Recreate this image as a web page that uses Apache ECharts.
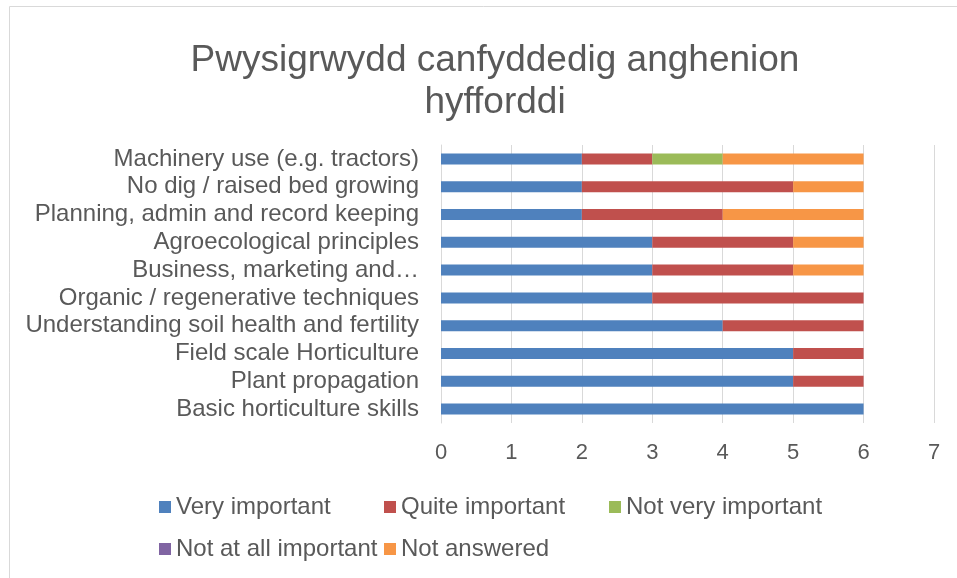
<!DOCTYPE html>
<html>
<head>
<meta charset="utf-8">
<script src="https://cdn.jsdelivr.net/npm/echarts@6/dist/echarts.min.js"></script>
<style>
  html, body { margin: 0; padding: 0; background: #fff; }
  #chart { width: 957px; height: 578px; }
</style>
</head>
<body>
<div id="chart"></div>
<script>
var categories = [
    'Basic horticulture skills',
    'Plant propagation',
    'Field scale Horticulture',
    'Understanding soil health and fertility',
    'Organic / regenerative techniques',
    'Business, marketing and\u2026',
    'Agroecological principles',
    'Planning, admin and record keeping',
    'No dig / raised bed growing',
    'Machinery use (e.g. tractors)'
];
var veryImportant     = [6, 5, 5, 4, 3, 3, 3, 2, 2, 2];
var quiteImportant    = [0, 1, 1, 2, 3, 2, 2, 2, 3, 1];
var notVeryImportant  = [0, 0, 0, 0, 0, 0, 0, 0, 0, 1];
var notAtAllImportant = [0, 0, 0, 0, 0, 0, 0, 0, 0, 0];
var notAnswered       = [0, 0, 0, 0, 0, 1, 1, 2, 1, 2];

var seriesNames = ['Very important', 'Quite important', 'Not very important', 'Not at all important', 'Not answered'];
var seriesData = [veryImportant, quiteImportant, notVeryImportant, notAtAllImportant, notAnswered];
var colors = ['#4F81BD', '#C0504D', '#9BBB59', '#8064A2', '#F79646'];

var font = 'Liberation Sans, Arial, sans-serif';
var textColor = '#595959';

var chart = echarts.init(document.getElementById('chart'));

var series = seriesNames.map(function(name, i){
    return {
        name: name,
        type: 'bar',
        stack: 'total',
        barWidth: 11,
        itemStyle: { color: colors[i] },
        data: seriesData[i]
    };
});

chart.setOption({
    animation: false,
    color: colors,
    title: {
        text: 'Pwysigrwydd canfyddedig anghenion\nhyfforddi',
        left: 490,
        top: 35,
        textAlign: 'center',
        textStyle: {
            fontFamily: font,
            fontSize: 37,
            fontWeight: 'normal',
            color: textColor,
            lineHeight: 42
        }
    },
    graphic: [{
        type: 'rect',
        silent: true,
        shape: { x: 9.5, y: 6.5, width: 1000, height: 700 },
        style: { fill: 'none', stroke: '#D9D9D9', lineWidth: 1 }
    }],
    legend: {
        left: 159,
        top: 486,
        width: 700,
        itemGap: 0,
        itemWidth: 12,
        itemHeight: 12,
        icon: 'rect',
        padding: 0,
        textStyle: {
            fontFamily: font,
            fontSize: 24,
            color: textColor,
            width: 208,
            height: 42,
            lineHeight: 42
        },
        data: seriesNames
    },
    grid: {
        left: 441,
        top: 145,
        width: 493,
        height: 278,
        containLabel: false
    },
    xAxis: {
        type: 'value',
        min: 0,
        max: 7,
        interval: 1,
        axisLine: { show: false },
        axisTick: { show: false },
        splitLine: { lineStyle: { color: '#D9D9D9', width: 1 } },
        axisLabel: {
            fontFamily: font,
            fontSize: 22,
            color: textColor,
            margin: 19
        }
    },
    yAxis: {
        type: 'category',
        data: categories,
        axisLine: { show: true, lineStyle: { color: '#D9D9D9' } },
        axisTick: { show: false },
        axisLabel: {
            fontFamily: font,
            fontSize: 24,
            color: textColor,
            margin: 22,
            interval: 0
        }
    },
    series: series
});
</script>
</body>
</html>
